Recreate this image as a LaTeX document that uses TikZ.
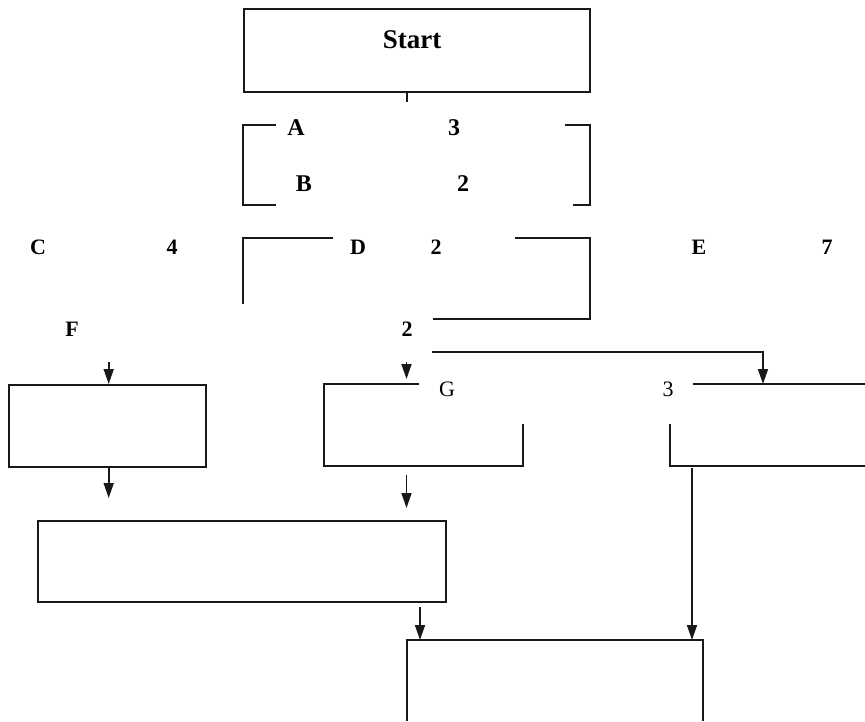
\documentclass[tikz,border=0pt]{standalone}
\usepackage{fontspec}
\setmainfont{Liberation Serif}
\usetikzlibrary{arrows.meta}
\begin{document}
\begin{tikzpicture}[x=1pt,y=-1pt,
  ln/.style={line width=1.6pt, draw=black!90},
  arr/.style={ln, -{Triangle[length=15pt,width=10pt]}},
  bigl/.style={font=\fontsize{27}{27}\selectfont\bfseries, inner sep=0pt},
  midl/.style={font=\fontsize{24}{24}\selectfont\bfseries, inner sep=0pt},
  lab/.style={font=\fontsize{22}{22}\selectfont\bfseries, inner sep=0pt},
  labr/.style={font=\fontsize{22}{22}\selectfont, inner sep=0pt},
  box/.style={ln, rectangle, inner sep=0pt, anchor=north west}]
\useasboundingbox (0,0) rectangle (865,721);

% closed boxes
\node[box, minimum width=346pt, minimum height=83pt] (start) at (243,8) {};
\node[box, minimum width=197pt, minimum height=82pt] (fbox) at (8,384) {};
\node[box, minimum width=408pt, minimum height=81pt] (bigbox) at (37,520) {};

% texts
\node[bigl] (tstart) at (412,40) {Start};
\node[midl] (ta) at (296,128) {A};
\node[midl] (t3a) at (454,128) {3};
\node[midl] (tb) at (304,184) {B};
\node[midl] (t2a) at (463,184) {2};
\node[lab] (tc) at (38,247) {C};
\node[lab] (t4) at (172,247) {4};
\node[lab] (td) at (358,247) {D};
\node[lab] (t2b) at (436,247) {2};
\node[lab] (te) at (699,247) {E};
\node[lab] (t7) at (827,247) {7};
\node[lab] (tf) at (72,329) {F};
\node[lab] (t2c) at (407,329) {2};
\node[labr] (tg) at (447,389) {G};
\node[labr] (t3b) at (668,389) {3};

% stub under Start
\coordinate (stub) at (407,102);
\draw[ln] (start.south -| stub) -- (stub);

% bracket A/B
\draw[ln] (276,125) -- (243,125) -- (243,205) -- (276,205);
\draw[ln] (565,125) -- (590,125) -- (590,205) -- (573,205);

% bracket D
\draw[ln] (333,238) -- (243,238) -- (243,304);
\draw[ln] (515,238) -- (590,238) -- (590,319) -- (433,319);

% open box G
\coordinate (gtop) at (419,384);
\draw[ln] (gtop) -- (324,384) -- (324,466) -- (523,466) -- (523,424);

% open right box
\coordinate (rtop) at (693,384);
\draw[ln] (rtop) -- (865,384);
\draw[ln] (670,424) -- (670,466) -- (865,466);

% open bottom box
\coordinate (btop) at (407,640);
\draw[ln] (407,721) -- (btop) -- (703,640) -- (703,721);

% connectors
\coordinate (fa) at (108.7,362);
\draw[arr] (fa) -- (fa |- fbox.north);
\coordinate (fb) at (108.7,498);
\draw[arr] (fbox.south -| fb) -- (fb);

\coordinate (ga) at (406.5,362);
\coordinate (gb) at (406.5,379);
\draw[arr] (ga) -- (gb);

\coordinate (ra) at (432,352);
\coordinate (rb) at (763,352);
\draw[arr] (ra) -- (rb) -- (rb |- rtop);

\coordinate (gc) at (406.5,475);
\coordinate (gd) at (406.5,508);
\draw[arr] (gc) -- (gd);

\coordinate (rc) at (692,468);
\draw[arr] (rc) -- (rc |- btop);

\coordinate (bb) at (420,607);
\draw[arr] (bb) -- (bb |- btop);
\end{tikzpicture}
\end{document}
